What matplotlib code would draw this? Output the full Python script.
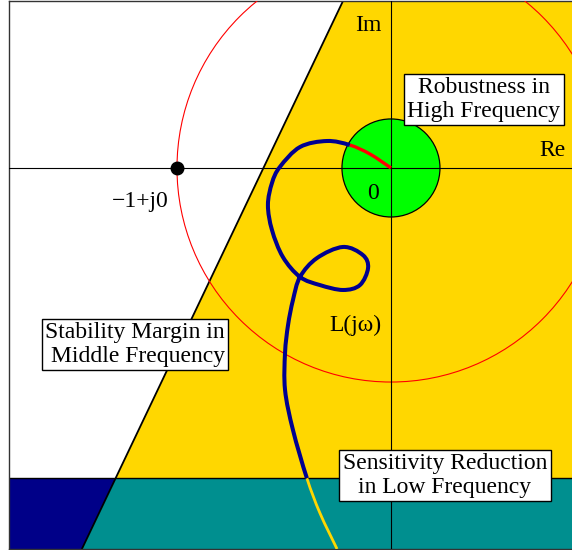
import numpy as np
import matplotlib
matplotlib.use("Agg")
import matplotlib.pyplot as plt
from matplotlib.path import Path
from matplotlib.patches import PathPatch, Polygon, Circle

plt.rcParams['font.family'] = ['Liberation Serif', 'DejaVu Serif']

# Nyquist curve L(jw) (low frequency -> high frequency)
curve_x = [-0.252, -0.332, -0.393, -0.458, -0.495, -0.495, -0.481, -0.458, -0.425,
           -0.346, -0.224, -0.131, -0.107, -0.145, -0.224, -0.332, -0.425, -0.505,
           -0.556, -0.575, -0.556, -0.519, -0.425, -0.299, -0.192, -0.098, 0.0]
curve_y = [-1.780, -1.612, -1.449, -1.224, -1.037, -0.864, -0.734, -0.617, -0.509,
           -0.421, -0.369, -0.407, -0.467, -0.547, -0.570, -0.547, -0.509, -0.416,
           -0.290, -0.173, -0.070, 0.005, 0.098, 0.126, 0.107, 0.065, 0.0]
idx_low_end = 2      # curve leaves the low frequency band here
idx_high_start = 24  # curve enters the high frequency disk here

# regions
margin_x0 = -0.596     # where the stability margin line crosses Re axis
margin_slope = 0.4766  # dx/dy of the margin line
low_freq_top = -1.449
high_freq_radius = 0.229
xmin, xmax = -1.785, 0.846
ymin, ymax = -1.780, 0.780

fig = plt.figure(figsize=(5.72, 5.5), dpi=100)
ax = fig.add_axes([9 / 572, 1 / 550, 563 / 572, 548 / 550])
ax.set_xlim(xmin, xmax)
ax.set_ylim(ymin, ymax)
ax.set_xticks([])
ax.set_yticks([])
ax.spines['right'].set_visible(False)
for s in ['top', 'left', 'bottom']:
    ax.spines[s].set_linewidth(1.0)
    ax.spines[s].set_color('#333333')


def line_x(y):
    return margin_x0 + margin_slope * y


big = 5
yellow = Polygon([(line_x(big), big), (big, big), (big, low_freq_top), (line_x(low_freq_top), low_freq_top)],
                 closed=True, facecolor='#FFD700', edgecolor='none', zorder=1)
teal = Polygon([(line_x(low_freq_top), low_freq_top), (big, low_freq_top), (big, -big), (line_x(-big), -big)],
               closed=True, facecolor='#008F8F', edgecolor='none', zorder=1)
navy = Polygon([(-big, low_freq_top), (line_x(low_freq_top), low_freq_top), (line_x(-big), -big), (-big, -big)],
               closed=True, facecolor='#000088', edgecolor='none', zorder=1)
for p in (yellow, teal, navy):
    ax.add_patch(p)
ax.plot([line_x(big), line_x(-big)], [big, -big], color='black', lw=1.3, zorder=2)
ax.axhline(low_freq_top, color='black', lw=1.0, zorder=2)

# unit circle
ax.add_patch(Circle((0, 0), 1.0, facecolor='none', edgecolor='red', lw=0.8, zorder=3))
# high frequency disk
ax.add_patch(Circle((0, 0), high_freq_radius, facecolor='#00FF00', edgecolor='black', lw=0.9, zorder=3))

# Re / Im axes
ax.axhline(0, color='black', lw=0.8, zorder=4)
ax.axvline(0, color='black', lw=0.8, zorder=4)

# curve as smooth bezier segments through the read points
pts = np.column_stack([curve_x, curve_y])
n = len(pts)
segs = []
for i in range(n - 1):
    p0 = pts[max(i - 1, 0)]
    p1 = pts[i]
    p2 = pts[i + 1]
    p3 = pts[min(i + 2, n - 1)]
    c1 = p1 + (p2 - p0) / 6
    c2 = p2 - (p3 - p1) / 6
    segs.append((p1, c1, c2, p2))


def bez_path(seglist):
    verts = [seglist[0][0]]
    codes = [Path.MOVETO]
    for _, c1, c2, p2 in seglist:
        verts += [c1, c2, p2]
        codes += [Path.CURVE4] * 3
    return Path(verts, codes)


ax.add_patch(PathPatch(bez_path(segs[:idx_low_end]), facecolor='none', edgecolor='#FFD700',
                       lw=2.0, zorder=5, capstyle='butt'))
ax.add_patch(PathPatch(bez_path(segs[idx_low_end:idx_high_start]), facecolor='none', edgecolor='#000090',
                       lw=2.9, zorder=5, capstyle='butt', joinstyle='round'))
ax.add_patch(PathPatch(bez_path(segs[idx_high_start:]), facecolor='none', edgecolor='#FF0000',
                       lw=2.4, zorder=5, capstyle='butt'))

# critical point
ax.plot([-1], [0], 'o', color='black', markersize=9, zorder=6)

fs = 17
ax.text(-0.107, 0.665, 'Im', fontsize=fs, ha='center', va='center', zorder=7)
ax.text(0.757, 0.083, 'Re', fontsize=fs, ha='center', va='center', zorder=7)
ax.text(-0.084, -0.118, '0', fontsize=fs, ha='center', va='center', zorder=7)
ax.text(-1.173, -0.155, '\u22121+j0', fontsize=fs, ha='center', va='center', zorder=7)
ax.text(-0.164, -0.735, 'L(j\u03c9)', fontsize=fs, ha='center', va='center', zorder=7)

box = dict(boxstyle='square,pad=0.15', facecolor='white', edgecolor='black', lw=1.0)
ax.text(0.435, 0.320, 'Robustness in\nHigh Frequency', fontsize=fs, ha='center', va='center',
        multialignment='center', linespacing=1.15, bbox=box, zorder=8)
ax.text(-1.196, -0.824, 'Stability Margin in\nMiddle Frequency', fontsize=fs, ha='center', va='center',
        multialignment='right', linespacing=1.15, bbox=box, zorder=8)
ax.text(0.252, -1.437, 'Sensitivity Reduction\nin Low Frequency', fontsize=fs, ha='center', va='center',
        multialignment='center', linespacing=1.15, bbox=box, zorder=8)

fig.savefig('out.png', dpi=100)
